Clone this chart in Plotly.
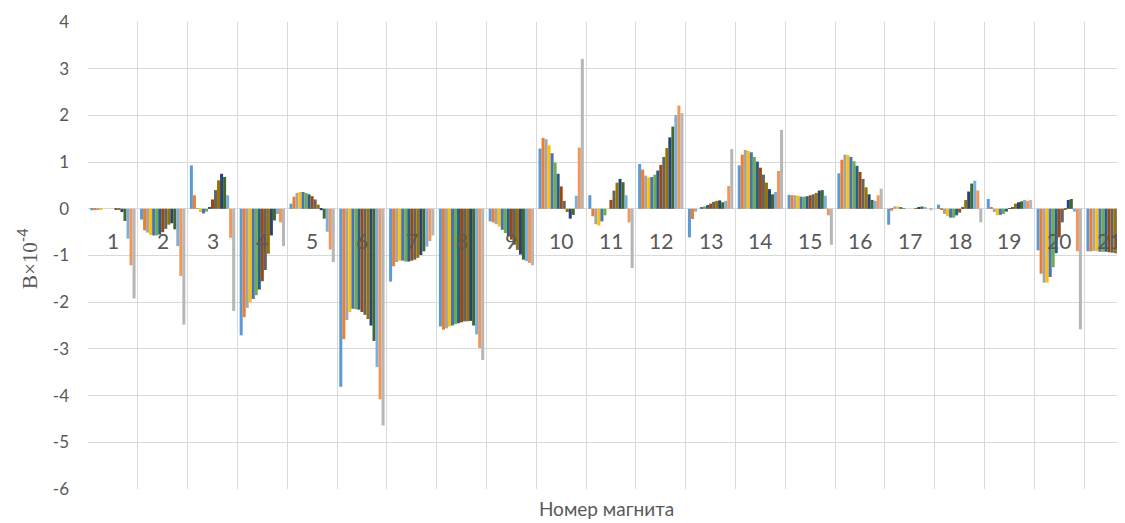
import plotly.graph_objects as go

categories = list(range(1, 22))
category_labels = [str(c) for c in categories]
y_tick_values = [4, 3, 2, 1, 0, -1, -2, -3, -4, -5, -6]
y_tick_labels = ["4", "3", "2", "1", "0", "-1", "-2", "-3", "-4", "-5", "-6"]

s1 = [-0.03, -0.23, 0.93, -2.71, 0.11, -3.81, -1.56, -2.52, -0.27, 1.29, 0.29, 0.96, -0.61, 0.93, 0.30, 0.76, -0.34, 0.09, 0.21, -0.89, -0.91]
s2 = [-0.03, -0.46, 0.29, -2.32, 0.26, -2.79, -1.23, -2.59, -0.29, 1.52, -0.16, 0.84, -0.22, 1.16, 0.29, 1.05, -0.04, -0.02, 0.02, -1.39, -0.91]
s3 = [-0.01, -0.51, 0.01, -2.12, 0.34, -2.38, -1.14, -2.56, -0.33, 1.49, -0.33, 0.71, -0.06, 1.26, 0.29, 1.16, 0.05, -0.11, -0.07, -1.58, -0.90]
s4 = [-0.01, -0.56, -0.07, -2.00, 0.36, -2.21, -1.11, -2.52, -0.38, 1.36, -0.36, 0.67, 0.00, 1.24, 0.28, 1.15, 0.05, -0.16, -0.14, -1.58, -0.91]
s5 = [0.00, -0.57, -0.10, -1.93, 0.36, -2.14, -1.11, -2.50, -0.45, 1.19, -0.27, 0.68, 0.02, 1.21, 0.26, 1.11, 0.03, -0.19, -0.13, -1.46, -0.92]
s6 = [0.00, -0.57, -0.06, -1.85, 0.34, -2.15, -1.13, -2.47, -0.52, 0.99, -0.14, 0.73, 0.05, 1.11, 0.26, 1.02, 0.01, -0.19, -0.11, -1.25, -0.92]
s7 = [0.00, -0.55, 0.04, -1.73, 0.31, -2.16, -1.13, -2.45, -0.59, 0.75, 0.00, 0.82, 0.08, 1.01, 0.27, 0.92, 0.00, -0.14, -0.06, -0.95, -0.92]
s8 = [0.00, -0.50, 0.20, -1.55, 0.27, -2.21, -1.11, -2.43, -0.66, 0.48, 0.19, 0.94, 0.11, 0.88, 0.29, 0.79, 0.00, -0.08, 0.01, -0.61, -0.93]
s9 = [-0.01, -0.43, 0.40, -1.31, 0.20, -2.27, -1.09, -2.41, -0.77, 0.17, 0.39, 1.11, 0.15, 0.73, 0.31, 0.64, 0.00, 0.04, 0.04, -0.29, -0.94]
s10 = [-0.02, -0.34, 0.61, -0.96, 0.09, -2.36, -1.05, -2.41, -0.88, -0.07, 0.56, 1.30, 0.17, 0.56, 0.34, 0.46, 0.01, 0.19, 0.11, -0.02, -0.95]
s11 = [-0.07, -0.31, 0.75, -0.57, -0.03, -2.50, -0.99, -2.40, -0.98, -0.21, 0.64, 1.53, 0.18, 0.42, 0.39, 0.31, 0.04, 0.37, 0.14, 0.19, -0.97]
s12 = [-0.26, -0.44, 0.68, -0.25, -0.21, -2.83, -0.91, -2.50, -1.09, -0.13, 0.57, 1.76, 0.14, 0.31, 0.40, 0.19, 0.05, 0.54, 0.16, 0.21, -0.98]
s13 = [-0.64, -0.80, 0.29, -0.11, -0.49, -3.39, -0.81, -2.69, -1.12, 0.28, 0.29, 2.01, 0.17, 0.36, 0.28, 0.17, 0.03, 0.60, 0.19, -0.06, -1.00]
s14 = [-1.21, -1.44, -0.62, -0.29, -0.87, -4.08, -0.69, -2.98, -1.16, 1.31, -0.29, 2.21, 0.49, 0.81, -0.14, 0.29, 0.00, 0.39, 0.17, -0.91, -1.00]
s15 = [-1.92, -2.48, -2.19, -0.80, -1.14, -4.64, -0.57, -3.24, -1.21, 3.21, -1.27, 2.05, 1.28, 1.69, -0.77, 0.43, -0.03, -0.29, 0.19, -2.58, -1.00]

series = [s1, s2, s3, s4, s5, s6, s7, s8, s9, s10, s11, s12, s13, s14, s15]
colors = ["#5B9BD5", "#ED7D31", "#A5A5A5", "#FFC000", "#4472C4", "#70AD47",
          "#255E91", "#9E480E", "#636363", "#997300", "#264478", "#43682B",
          "#7CAFDD", "#F1975A", "#B7B7B7"]

FONT = "Lato, 'Open Sans', sans-serif"
GRAY = "#595959"
GRID = "#D9D9D9"

fig = go.Figure()
for i, (vals, col) in enumerate(zip(series, colors)):
    fig.add_trace(go.Bar(x=categories, y=vals, name=f"Серия {i+1}",
                         marker=dict(color=col, line=dict(width=0)),
                         showlegend=False))

for c, lab in zip(categories, category_labels):
    fig.add_annotation(x=c, y=-0.68, xref="x", yref="y", text=lab,
                       showarrow=False, font=dict(family=FONT, size=21, color=GRAY))

fig.add_annotation(xref="paper", yref="paper", x=0, y=0.4925, xshift=-61,
                   xanchor="center", yanchor="middle",
                   text="<span style='font-family:Liberation Serif'>B×10</span><sup>-4</sup>",
                   textangle=-90, showarrow=False,
                   font=dict(family=FONT, size=21, color=GRAY))

fig.update_layout(
    width=1117, height=515,
    margin=dict(l=80, r=0, t=14, b=34),
    paper_bgcolor="white", plot_bgcolor="white",
    barmode="group", bargap=0.09, bargroupgap=0,
    font=dict(family=FONT, color=GRAY),
    xaxis=dict(range=[0.5, 21.32], tickvals=[k + 0.5 for k in range(0, 22)],
               showticklabels=False, ticks="", showgrid=True, gridcolor=GRID,
               gridwidth=1, zeroline=False, showline=False,
               title=dict(text="Номер магнита", standoff=13,
                          font=dict(family=FONT, size=19, color=GRAY)),
               automargin=False),
    yaxis=dict(range=[-6, 4], tickvals=y_tick_values, ticktext=y_tick_labels,
               showgrid=True, gridcolor=GRID,
               gridwidth=1, zeroline=True, zerolinecolor=GRID, zerolinewidth=1,
               showline=False, ticks="", ticklabelstandoff=18,
               tickfont=dict(family=FONT, size=17, color=GRAY), automargin=False),
)

fig.write_html("out.html")
